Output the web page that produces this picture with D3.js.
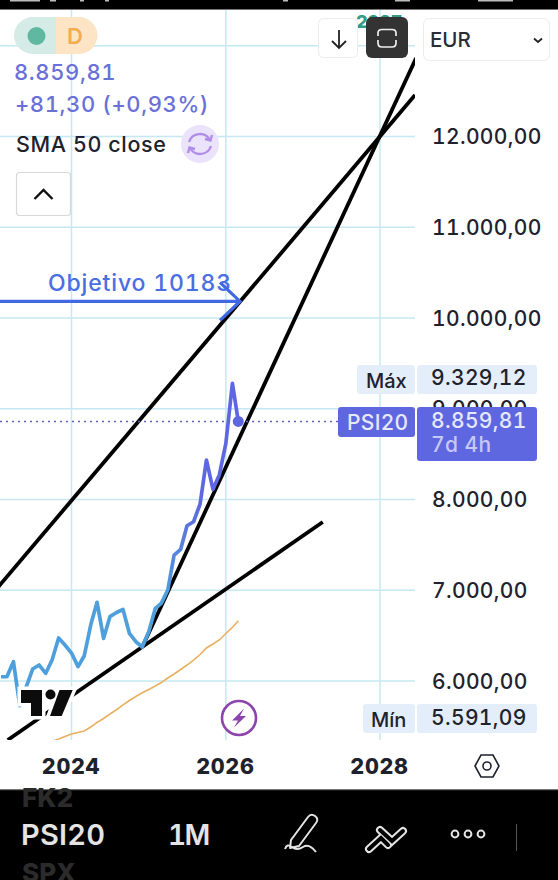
<!DOCTYPE html>
<html><head><meta charset="utf-8">
<script src="https://cdn.jsdelivr.net/npm/d3@7"></script>
<style>html,body{margin:0;padding:0;background:#fff}svg{display:block}text{font-family:Inter,"Noto Sans",sans-serif;font-variant-numeric:tabular-nums;font-feature-settings:"tnum" 1}</style>
</head><body><div id="c"></div>
<script>
// ---- data ----
const firstMonth = "2023-02-01";
const priceCloses = [6047,6047,6213,5728,5937,6132,6176,6085,6231,6474,6397,6308,6158,6275,6617,6867,6470,6709,6755,6788,6526,6433,6375,6543,6801,6856,7003,7388,7451,7711,7755,7950,8435,8112,8270,8619,9280,8859.81];
const smaFirstMonth = "2023-10-01";
const smaValues = [5335,5361,5388,5416,5433,5449,5493,5543,5587,5636,5683,5736,5785,5829,5870,5906,5945,5983,6033,6077,6127,6176,6231,6292,6364,6408,6452,6523,6590,6664];
const trendLines = [
  [["2022-12-10",6926],["2028-06-15",12457]],
  [["2024-12-01",6375],["2028-06-20",12865]],
  [["2023-03-05",5350],["2027-04-05",7752]]
];
const targetLevel = 10183;
const targetLabel = "Objetivo 10183";
const priceTicks = [13000,12000,11000,10000,9000,8000,7000,6000];
const priceTickLabels = ["","12.000,00","11.000,00","10.000,00","9.000,00","8.000,00","7.000,00","6.000,00"];
const yearTicks = [2024,2026,2028];
const lastValueLabel = "8.859,81";
const changeLabel = "+81,30 (+0,93%)";
const maxLabel = "9.329,12";
const minLabel = "5.591,09";

const W=558,H=880,plotR=415,plotT=10,plotB=740;
const svg=d3.select("#c").append("svg").attr("width",W).attr("height",H);
const dt=s=>new Date(s+"T00:00:00Z");
const x=d3.scaleUtc().domain([dt("2024-01-01"),dt("2028-01-01")]).range([71.5,380]);
const y=d3.scaleLinear().domain([6000,12000]).range([681,136.5]);
const monthSeq=(s,n)=>d3.range(n).map(i=>d3.utcMonth.offset(dt(s),i));
const priceDates=monthSeq(firstMonth,priceCloses.length);
const smaDates=monthSeq(smaFirstMonth,smaValues.length);
const INDIGO="#5f67e0",BLUE="#4f9fdc",GRID="#c5e8f2",INK="#1e222d";

const defs=svg.append("defs");
defs.append("clipPath").attr("id","plot").append("rect").attr("x",0).attr("y",plotT).attr("width",plotR).attr("height",plotB-plotT);
const g=defs.append("linearGradient").attr("id","pg").attr("gradientUnits","userSpaceOnUse").attr("x1",0).attr("x2",0).attr("y1",y(6900)).attr("y2",y(8000));
g.append("stop").attr("offset",0).attr("stop-color",BLUE);
g.append("stop").attr("offset",1).attr("stop-color",INDIGO);

// grid
const grid=svg.append("g");
grid.selectAll("line.h").data(priceTicks).join("line").attr("x1",0).attr("x2",plotR).attr("y1",d=>y(d)).attr("y2",d=>y(d)).attr("stroke",GRID).attr("stroke-width",1.5);
grid.selectAll("line.v").data(yearTicks).join("line").attr("x1",d=>x(dt(d+"-01-01"))).attr("x2",d=>x(dt(d+"-01-01"))).attr("y1",plotT).attr("y2",plotB).attr("stroke",GRID).attr("stroke-width",1.5);

const plot=svg.append("g").attr("clip-path","url(#plot)");
// sma
const sLine=d3.line().x((d,i)=>x(smaDates[i])).y(d=>y(d));
plot.append("path").attr("d",sLine(smaValues)).attr("fill","none").attr("stroke","#eab062").attr("stroke-width",1.6);
// trend lines
const tLine=d3.line().x(d=>x(dt(d[0]))).y(d=>y(d[1]));
plot.selectAll("path.t").data(trendLines).join("path").attr("class","t").attr("d",tLine).attr("fill","none").attr("stroke","#000").attr("stroke-width",3.8);
// price
const pLine=d3.line().x((d,i)=>x(priceDates[i])).y(d=>y(d));
plot.append("path").attr("d",pLine(priceCloses)).attr("fill","none").attr("stroke","url(#pg)").attr("stroke-width",3.7).attr("stroke-linejoin","round");
const lastX=x(priceDates[priceDates.length-1]),lastY=y(priceCloses[priceCloses.length-1]);
plot.append("line").attr("x1",0).attr("x2",338).attr("y1",lastY).attr("y2",lastY).attr("stroke","#5f60c0").attr("stroke-width",1.5).attr("stroke-dasharray","2 4");
plot.append("circle").attr("cx",lastX).attr("cy",lastY).attr("r",5.5).attr("fill",INDIGO);

// target arrow
const ty=y(targetLevel),ann="#4068e0";
svg.append("path").attr("d",`M0,${ty}H240M220,${ty-19}L240,${ty}L220,${ty+19}`).attr("fill","none").attr("stroke",ann).attr("stroke-width",3.2);
svg.append("text").attr("x",48).attr("y",291).attr("font-size",23).attr("font-weight",500).attr("fill",ann).attr("letter-spacing",.85).attr("opacity",.95).text(targetLabel);

// logo
const logo=svg.append("g");
const tv=["M21,690H42V716H31V703H21Z","M59.5,690H72.7L61.7,716H50Z"];
logo.selectAll("path.h").data(tv).join("path").attr("d",d=>d).attr("fill","#fff").attr("stroke","#fff").attr("stroke-width",7);
logo.append("circle").attr("cx",50.5).attr("cy",694.5).attr("r",8).attr("fill","#fff");
logo.selectAll("path.f").data(tv).join("path").attr("d",d=>d).attr("fill","#0c0c0c");
logo.append("circle").attr("cx",50.5).attr("cy",694.5).attr("r",5).attr("fill","#0c0c0c");
// bolt
const bolt=svg.append("g").attr("transform","translate(239,718)");
bolt.append("circle").attr("r",17).attr("fill","#fff").attr("stroke","#8e44ad").attr("stroke-width",2.6);
bolt.append("path").attr("d","M5,-9.5L-7,2.5H-1L-5,9.5L7,-2H1Z").attr("fill","#8e44ad");

// right axis
const axisG=svg.append("g");
axisG.append("rect").attr("x",plotR).attr("y",plotT).attr("width",W-plotR).attr("height",780).attr("fill","#fff");
const yAxis=d3.axisRight(y).tickValues(priceTicks).tickSize(0).tickPadding(0).tickFormat((d,i)=>priceTickLabels[i]);
const ya=axisG.append("g").attr("transform","translate(432,0)").call(yAxis);
ya.select(".domain").remove();
ya.selectAll("text").attr("font-size",21).attr("font-weight",500).attr("fill",INK).attr("letter-spacing",.35).attr("font-family","Inter").attr("dy",".34em");
// bottom axis
const xAxis=d3.axisBottom(x).tickValues(yearTicks.map(d=>dt(d+"-01-01"))).tickSize(0).tickPadding(0).tickFormat(d3.utcFormat("%Y"));
const xa=svg.append("g").attr("transform","translate(0,766)").call(xAxis);
xa.select(".domain").remove();
xa.selectAll("text").attr("font-size",21.5).attr("font-weight",800).attr("fill",INK).attr("font-family","Inter").attr("letter-spacing",.7).attr("dx",-1).attr("dy",".36em");
// hexagon
const hx=svg.append("g").attr("transform","translate(487,766)").attr("fill","none").attr("stroke",INK).attr("stroke-width",1.6);
hx.append("path").attr("d","M-12,0L-6,-11H6L12,0L6,11H-6Z");
hx.append("circle").attr("r",4);

// tags
function box(x0,y0,x1,y1,f,r){svg.append("rect").attr("x",x0).attr("y",y0).attr("width",x1-x0).attr("height",y1-y0).attr("rx",r||3).attr("fill",f);}
function txt(s,x0,yb,size,f,wt,extra){const t=svg.append("text").attr("x",x0).attr("y",yb).attr("font-size",size).attr("fill",f).attr("font-weight",wt||500).text(s);if(extra)extra(t);return t;}
const ls=v=>t=>t.attr("letter-spacing",v);
box(357,365,415,394,"#e3eefa");box(417,365,537,394,"#e3eefa");
txt("Máx",366,388,20,INK,500);txt(maxLabel,431,385,21,INK,500,ls(.35));
box(338,407,415,437,INDIGO);box(417,407,537,461,INDIGO);
txt("PSI20",347,430,21,"#e6e8fb",500,ls(.3));txt(lastValueLabel,431,428,21,"#e6e8fb",500,ls(.35));txt("7d 4h",431,452,21,"#c6c9f5",500,ls(.4));
box(363,704,415,733,"#e3eefa");box(417,704,537,733,"#e3eefa");
txt("Mín",371,727,20,INK,500);txt(minLabel,431,725,21,INK,500,ls(.35));

// legend pill
svg.append("path").attr("d","M56,17H33A19,18.5 0 0 0 33,54H56Z").attr("fill","#d5ece6");
svg.append("path").attr("d","M56,17H79A18.5,18.5 0 0 1 79,54H56Z").attr("fill","#fde4c4");
svg.append("circle").attr("cx",36.5).attr("cy",36).attr("r",9).attr("fill","#60b8a0");
txt("D",67,44,22,"#f2ad52",600);
txt(lastValueLabel,14,80,22,"#6a70d8",500,ls(.6));
txt(changeLabel,15,112,22,"#6a70d8",500,ls(.6));
txt("SMA 50 close",16,152,21.5,INK,500,ls(.6));
svg.append("circle").attr("cx",200).attr("cy",144).attr("r",19).attr("fill","#ebe3fb");
const rf=svg.append("g").attr("transform","translate(200,144)").attr("fill","none").attr("stroke","#b08ee8").attr("stroke-width",2.4);
rf.append("path").attr("d","M-11,-2A11.5,11.5 0 0 1 10,-4M11,2A11.5,11.5 0 0 1 -10,4M12,-9L10.5,-3.5L5,-5M-12,9L-10.5,3.5L-5,5");
// collapse btn
svg.append("rect").attr("x",16.5).attr("y",172.5).attr("width",54).attr("height",43).attr("rx",3).attr("fill","#fff").attr("stroke","#d8d8d8").attr("stroke-width",1.2);
svg.append("path").attr("d","M34.5,199L43.5,190L52.5,199").attr("fill","none").attr("stroke","#111").attr("stroke-width",2.4);

// hidden date label behind the buttons
txt("2027",356,28,18,"#2f9c86",800);
// top-right buttons
svg.append("rect").attr("x",318.5).attr("y",18.5).attr("width",39).attr("height",39).attr("rx",5).attr("fill","#fff").attr("stroke","#ececec");
svg.append("path").attr("d","M339,30V48M332,41L339,48L346,41").attr("fill","none").attr("stroke","#222").attr("stroke-width",1.8);
svg.append("rect").attr("x",366).attr("y",17).attr("width",42).attr("height",41).attr("rx",6).attr("fill","#333");
svg.append("path").attr("d","M378,36V33Q378,29.5 382,29.5H392Q396,29.5 396,33V36M378,40V43Q378,47 382,47H392Q396,47 396,43V40").attr("fill","none").attr("stroke","#eee").attr("stroke-width",1.7);
svg.append("rect").attr("x",423.5).attr("y",18.5).attr("width",126).attr("height",42).attr("rx",6).attr("fill","#fff").attr("stroke","#ececec");
txt("EUR",430,47,20.5,"#2a2e39",500);
svg.append("path").attr("d","M534,38.5L538,42L542,38.5").attr("fill","none").attr("stroke","#222").attr("stroke-width",1.8);

// phone chrome
svg.append("rect").attr("width",W).attr("height",9).attr("fill","#000");
svg.append("rect").attr("y",9).attr("width",W).attr("height",1).attr("fill","#777");
[[10,30],[50,6],[80,4],[105,4],[283,5],[395,15],[478,35]].forEach(([a,b])=>svg.append("rect").attr("x",a).attr("y",0).attr("width",b).attr("height",1.5).attr("fill","#bbb"));
svg.append("rect").attr("y",790).attr("width",W).attr("height",90).attr("fill","#000");
svg.append("rect").attr("y",789).attr("width",W).attr("height",1.2).attr("fill","#777");
txt("FK2",22,807,26,"#2b2b2b",800);
txt("SPX",22,882,26,"#2b2b2b",800);
txt("PSI20",21,845,29,"#e4e4e4",600,ls(.2));
txt("1M",168,845,28,"#e4e4e4",600,ls(-1.5));
const ic=svg.append("g").attr("fill","none").attr("stroke","#e4e4e4").attr("stroke-width",2);
ic.append("path").attr("d","M291,841L308,818Q311,814 315,817Q319,820 316,824L299,847L290,849ZM285,850Q287,844 292,848Q297,852 303,848Q309,844 316,853").attr("stroke-linejoin","round").attr("transform","translate(0,-1)");
const zig="M369,849L381,838L388,845M380,830L392,841L403,831";
svg.append("path").attr("d",zig).attr("fill","none").attr("stroke","#e4e4e4").attr("stroke-width",8).attr("stroke-linecap","round");
svg.append("path").attr("d",zig).attr("fill","none").attr("stroke","#000").attr("stroke-width",4).attr("stroke-linecap","round");
[454,467,480].forEach(cx=>svg.append("circle").attr("cx",cx+1).attr("cy",834).attr("r",3.4).attr("fill","none").attr("stroke","#e4e4e4").attr("stroke-width",2));
svg.append("line").attr("x1",516.5).attr("x2",516.5).attr("y1",824).attr("y2",851).attr("stroke","#555");
</script></body></html>
